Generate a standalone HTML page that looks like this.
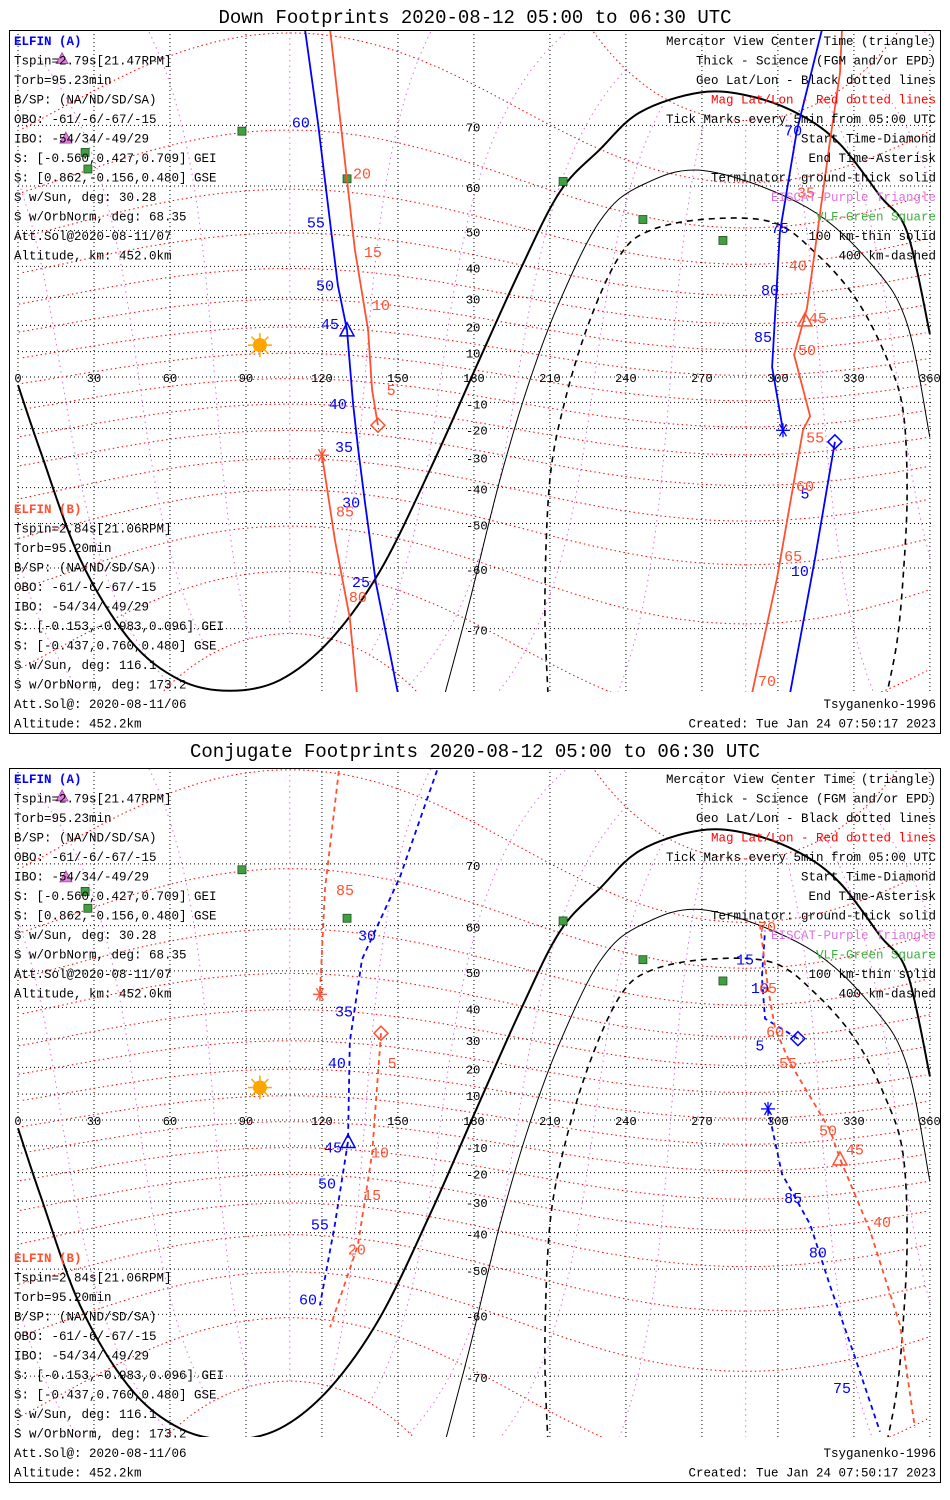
<!DOCTYPE html>
<html><head><meta charset="utf-8"><style>
html,body{margin:0;background:#fff;width:950px;height:1500px;overflow:hidden}
svg{display:block}
text{font-family:"Liberation Mono","DejaVu Sans Mono",monospace}
</style></head><body>
<svg id="chart" width="950" height="1500" viewBox="0 0 950 1500" xmlns="http://www.w3.org/2000/svg">
<defs>
<clipPath id="clip1"><rect x="17" y="31" width="914" height="661"/></clipPath>
<clipPath id="clip2"><rect x="17" y="769" width="914" height="668"/></clipPath>
</defs>
<rect x="0" y="0" width="950" height="1500" fill="#fff"/>
<text x="475" y="23" font-size="19" text-anchor="middle">Down Footprints 2020-08-12 05:00 to 06:30 UTC</text>
<text x="475" y="757" font-size="19" text-anchor="middle">Conjugate Footprints 2020-08-12 05:00 to 06:30 UTC</text>
<rect x="9.5" y="30.5" width="931" height="703" fill="none" stroke="#000"/>
<rect x="9.5" y="768.5" width="931" height="714" fill="none" stroke="#000"/>
<g id="p1"></g><g id="p2"></g>
</svg>
<script>
const lonTicks=[0,30,60,90,120,150,180,210,240,270,300,330,360];
const latTicks=[-70,-60,-50,-40,-30,-20,-10,10,20,30,40,50,60,70];
const magLats=[-80,-70,-60,-50,-40,-30,-20,-10,0,10,20,30,40,50,60,70,80];
const magLons=[0,30,60,90,120,150,180,210,240,270,300,330];
const sunPos=[95.5,12.5];
const termGround=[[0,-3.2],[8.7,-27.7],[24.5,-58.2],[44.2,-71.5],[64,-75.9],[83.7,-76.9],[103.4,-75.9],[123.2,-71.5],[142.9,-60.6],[162.7,-34.3],[180,2],[198.2,38.8],[214,58.9],[229.8,66.5],[245.6,71.7],[269.3,74],[289,73.6],[308.7,71.4],[324.5,67.3],[340.3,58],[351,49.6],[360,16.8]];
const term100=[[168.6,-77.1],[178.4,-65.8],[190.3,-37.5],[202.1,-1.2],[214,29],[229.8,52.4],[245.6,60],[271.2,62.9],[311.5,55.5],[337.5,40.1],[351,20.6],[360,-23.2]];
const term400=[[209.2,-77.1],[208,-65.8],[210,-37.5],[216,-9.1],[225.8,22],[237.7,43.3],[249.5,50],[272,52.8],[298,52],[315.4,43.6],[331.2,29],[343.1,7.1],[349.4,-13],[351,-41.8],[349.4,-62.1],[347,-71.7],[343.1,-77.1]];
const vlfSquares=[[88.4,69.2],[26.5,66],[27.6,63.2],[129.9,61.4],[215.2,60.9],[246.7,52.7],[278.3,47.4]];
const emicTriangles=[[17.4,77.3],[18.9,68.2]];
// Panel 1 tracks
const p1A1=[[113.3,79.6],[118.4,70.4],[123.2,52],[126.3,34],[129.9,18.3],[132.3,-10.6],[134.2,-26.6],[137,-44.4],[141.3,-62.8],[150,-77.1]];
const p1A2=[[317.4,79.6],[307.5,69.3],[300.8,49.6],[297.7,3.9],[302,-20.6]];
const p1A3=[[322.5,-24.8],[314.6,-58.2],[304.8,-77.1]];
const p1B1=[[123.2,79.6],[129.9,61.2],[133,44.8],[138.2,18.3],[139.8,-5.1],[142.1,-18.7]];
const p1B2=[[120,-29.5],[125.1,-54],[131,-68.5],[133.8,-77.1]];
const p1B3=[[325.3,79.6],[324.5,76],[320.6,67.9],[311.5,26.3],[306.4,8.7],[312.7,-15.3],[309.9,-20.5],[299.6,-62.1],[289.8,-77.1]];
const p1ALabels=[[111.7,70.4,'60'],[117.6,52,'55'],[121.2,34,'50'],[123.2,20.5,'45'],[126.3,-10.6,'40'],[128.7,-26.6,'35'],[131.5,-44.4,'30'],[135.4,-62.7,'25'],[306,69.3,'70'],[300.8,50.6,'75'],[296.9,32.5,'80'],[294.1,15.6,'85'],[310.7,-41.8,'5'],[308.7,-60.6,'10']];
const p1BLabels=[[135.8,62.4,'20'],[140.1,44.2,'15'],[143.3,27.3,'10'],[147.3,-5.1,'5'],[129.1,-46.8,'85'],[134.2,-65.3,'80'],[311.1,58.7,'35'],[307.9,40.3,'40'],[315.8,22.7,'45'],[311.5,10.6,'50'],[314.7,-23.2,'55'],[310.7,-39.5,'60'],[306,-57.6,'65'],[295.7,-76,'70']];
const p1Markers=[['tri','A',129.9,18.3],['dia','B',142.1,-18.7],['ast','B',120,-29.5],['ast','A',302,-20.6],['dia','A',322.5,-24.8],['tri','B',310.7,22]];
// Panel 2 tracks
const p2A1=[[166.6,79.9],[150.8,68.2],[135.8,52.8],[131,29],[130.3,-8.3],[125.1,-37.5],[119.2,-58.2]];
const p2A2=[[307.9,30.1],[294.9,36.6],[293.7,48.4],[294.9,59]];
const p2A3=[[296.1,4.3],[301.6,-20.5],[312.7,-37.5],[320.6,-54],[330.4,-67.3],[340.3,-76.2]];
const p2B1=[[127.1,79.9],[121.2,66.4],[119.2,43.8]];
const p2B2=[[143.3,31.9],[139.8,-13],[134.2,-43.6],[123.2,-62.4]];
const p2B3=[[292.9,60.2],[296.1,45.5],[298.9,33.4],[304.8,21.6],[320.6,-4],[324.5,-14.9],[336.4,-39.5],[348.2,-62],[354.1,-75.8]];
const p2ALabels=[[137.8,58,'30'],[128.7,38.8,'35'],[125.9,21.6,'40'],[124.4,-10.6,'45'],[122,-23.9,'50'],[119.2,-37.5,'55'],[114.5,-57,'60'],[287,52.7,'15'],[292.9,45.5,'10'],[292.9,27.7,'5'],[306,-29,'85'],[315.8,-45.7,'80'],[325.3,-71.5,'75']];
const p2BLabels=[[129.1,66.2,'85'],[147.7,21.6,'5'],[142.9,-12.6,'10'],[139.8,-27.9,'15'],[133.8,-44.9,'20'],[295.7,59.7,'70'],[296.1,45.5,'65'],[298.9,32.5,'60'],[304,21.6,'55'],[319.8,-4,'50'],[330.4,-11.4,'45'],[341.1,-36.8,'40']];
const p2Markers=[['ast','B',119.2,43.8],['dia','B',143.3,31.9],['tri','A',130.3,-8.3],['ast','A',296.1,4.3],['dia','A',307.9,30.1],['tri','B',324.5,-14.9]];

const leftTop=[['ELFIN (A)','#0000ff'],['Tspin=2.79s[21.47RPM]','#000'],['Torb=95.23min','#000'],['B/SP: (NA/ND/SD/SA)','#000'],['OBO: -61/-6/-67/-15','#000'],['IBO: -54/34/-49/29','#000'],['S: [-0.560,0.427,0.709] GEI','#000'],['S: [0.862,-0.156,0.480] GSE','#000'],['S w/Sun, deg: 30.28','#000'],['S w/OrbNorm, deg: 68.35','#000'],['Att.Sol@2020-08-11/07','#000'],['Altitude, km: 452.0km','#000']];
const leftBot=[['ELFIN (B)','#ff5030'],['Tspin=2.84s[21.06RPM]','#000'],['Torb=95.20min','#000'],['B/SP: (NA/ND/SD/SA)','#000'],['OBO: -61/-6/-67/-15','#000'],['IBO: -54/34/-49/29','#000'],['S: [-0.153,-0.983,0.096] GEI','#000'],['S: [-0.437,0.760,0.480] GSE','#000'],['S w/Sun, deg: 116.1','#000'],['S w/OrbNorm, deg: 173.2','#000'],['Att.Sol@: 2020-08-11/06','#000'],['Altitude: 452.2km','#000']];
const rightTop=[['Mercator View Center Time (triangle)','#000'],['Thick - Science (FGM and/or EPD)','#000'],['Geo Lat/Lon - Black dotted lines','#000'],['Mag Lat/Lon - Red dotted lines','#ff0000'],['Tick Marks every 5min from 05:00 UTC','#000'],['Start Time-Diamond','#000'],['End Time-Asterisk','#000'],['Terminator: ground-thick solid','#000'],['EISCAT-Purple Triangle','#e070e0'],['VLF-Green Square','#40b040'],['100 km-thin solid','#000'],['400 km-dashed','#000']];
const rightBot=[['Tsyganenko-1996','#000'],['Created: Tue Jan 24 07:50:17 2023','#000']];

const NS='http://www.w3.org/2000/svg';
const D=Math.PI/180;
function mk(tag,attrs,parent){const e=document.createElementNS(NS,tag);for(const k in attrs)e.setAttribute(k,attrs[k]);parent.appendChild(e);return e;}
function pathFrom(pts,sx,sy){let d='',prev=null;for(const p of pts){if(p===null){prev=null;continue;}const x=sx(p[0]),y=sy(p[1]);if(!isFinite(y)){prev=null;continue;}d+=(prev?'L':'M')+x.toFixed(1)+' '+y.toFixed(1);prev=p;}return d;}
function smoothFrom(pts,sx,sy){const P=pts.map(p=>[sx(p[0]),sy(p[1])]);let d='M'+P[0][0].toFixed(1)+' '+P[0][1].toFixed(1);
 for(let i=0;i<P.length-1;i++){const p0=P[Math.max(0,i-1)],p1=P[i],p2=P[i+1],p3=P[Math.min(P.length-1,i+2)];
  const c1=[p1[0]+(p2[0]-p0[0])/6,p1[1]+(p2[1]-p0[1])/6],c2=[p2[0]-(p3[0]-p1[0])/6,p2[1]-(p3[1]-p1[1])/6];
  d+='C'+c1[0].toFixed(1)+' '+c1[1].toFixed(1)+' '+c2[0].toFixed(1)+' '+c2[1].toFixed(1)+' '+p2[0].toFixed(1)+' '+p2[1].toFixed(1);}return d;}
function splitWrap(pts){const out=[];let prev=null;for(const p of pts){if(prev&&Math.abs(p[0]-prev[0])>180)out.push(null);out.push(p);prev=p;}return out;}
function magToGeo(ml,mo){const th=(90-80.65)*D,ps=287.3*D;const x=Math.cos(ml*D)*Math.cos(mo*D),y=Math.cos(ml*D)*Math.sin(mo*D),z=Math.sin(ml*D);
 const x1=x*Math.cos(th)+z*Math.sin(th),z1=-x*Math.sin(th)+z*Math.cos(th);const x2=x1*Math.cos(ps)-y*Math.sin(ps),y2=x1*Math.sin(ps)+y*Math.cos(ps);
 let lon=Math.atan2(y2,x2)/D;if(lon<0)lon+=360;return [lon,Math.asin(Math.max(-1,Math.min(1,z1)))/D];}

function drawPanel(id,cfg,tracks,markers,aLabels,bLabels){
 const g=document.getElementById(id);
 const sx=lon=>18+lon*2.533;
 const sy=lat=>cfg.y0-cfg.R*Math.log(Math.tan(Math.PI/4+lat*Math.PI/360));
 const m=mk('g',{'clip-path':'url(#'+cfg.clip+')'},g);
 
 
 for(const lon of lonTicks){const l=mk('line',{x1:sx(lon),x2:sx(lon),y1:cfg.top,y2:cfg.bot,stroke:'#000','stroke-width':1,'stroke-dasharray':'1 3'},m);
  }
 for(const lat of latTicks.concat([0])){const l=mk('line',{x1:10,x2:940,y1:sy(lat),y2:sy(lat),stroke:'#000','stroke-width':1,'stroke-dasharray':'1 3'},m);
  }
 for(const ml of magLats){const pts=[];for(let mo=0;mo<=360;mo+=2)pts.push(magToGeo(ml,mo));
  const p=mk('path',{d:pathFrom(splitWrap(pts),sx,sy),fill:'none',stroke:'#ff0000','stroke-width':1,'stroke-dasharray':'1.5 3'},m);
  }
 for(const mo of magLons){const pts=[];for(let ml=-80;ml<=80;ml+=2)pts.push(magToGeo(ml,mo));
  const p=mk('path',{d:pathFrom(splitWrap(pts),sx,sy),fill:'none',stroke:'#e070e0','stroke-width':1,'stroke-dasharray':'1.5 4'},m);
  }
 [[termGround,2,'none','terminator-ground'],[term100,1,'none','terminator-100km'],[term400,1.6,'6 5','terminator-400km']].forEach(t=>{
  const p=mk('path',{d:smoothFrom(t[0],sx,sy),fill:'none',stroke:'#000','stroke-width':t[1],'stroke-dasharray':t[2]},m);
  });
 for(const lon of lonTicks){const t=mk('text',{x:sx(lon),y:cfg.y0+5,'font-size':12,'text-anchor':'middle'},g);t.textContent=String(lon);
  }
 for(const lat of latTicks){const t=mk('text',{x:sx(180)-8,y:sy(lat)+6,'font-size':12},g);t.textContent=String(lat);
  }
 for(const s of vlfSquares){const r=mk('rect',{x:sx(s[0])-4,y:sy(s[1])-4,width:8,height:8,fill:'#40a040',stroke:'#205020','stroke-width':0.8},m);
  }
 for(const s of emicTriangles){const x=sx(s[0]),y=sy(s[1]);const p=mk('polygon',{points:`${x-6},${y+5} ${x+6},${y+5} ${x},${y-6}`,fill:'#e080e0',stroke:'#a040a0','stroke-width':0.8},m);
  }
 const sg=mk('g',{},m);
 const cx=sx(sunPos[0]),cy=sy(sunPos[1]);
 for(let a=0;a<360;a+=45){mk('line',{x1:cx,y1:cy,x2:cx+12*Math.cos(a*D),y2:cy+12*Math.sin(a*D),stroke:'#ffa500','stroke-width':1.5},sg);}
 mk('circle',{cx:cx,cy:cy,r:7,fill:'#ffa500'},sg);
 for(const tr of tracks){const p=mk('path',{d:pathFrom(tr.pts,sx,sy),fill:'none',stroke:tr.sc==='A'?'#0000ff':'#ff5030','stroke-width':1.8,'stroke-dasharray':cfg.dash},m);
  }
 for(const [lab,col,nm] of [[aLabels,'#0000ff','elfin-a-tick-label'],[bLabels,'#ff5030','elfin-b-tick-label']]){
  for(const l of lab){const t=mk('text',{x:sx(l[0]),y:sy(l[1])+5,'font-size':15,'text-anchor':'middle',fill:col,'font-family':'Liberation Sans, sans-serif'},g);t.textContent=l[2];
   }}
 for(const mm of markers){const x=sx(mm[2]),y=sy(mm[3]);const col=mm[1]==='A'?'#0000ff':'#ff5030';let e;
  if(mm[0]==='tri'){e=mk('polygon',{points:`${x-7},${y+6} ${x+7},${y+6} ${x},${y-7}`,fill:'none',stroke:col,'stroke-width':1.5},g);}
  else if(mm[0]==='dia'){e=mk('polygon',{points:`${x},${y-7} ${x+7},${y} ${x},${y+7} ${x-7},${y}`,fill:'none',stroke:col,'stroke-width':1.5},g);}
  else{e=mk('g',{},g);for(let a=0;a<180;a+=60){mk('line',{x1:x-7*Math.cos(a*D),y1:y-7*Math.sin(a*D),x2:x+7*Math.cos(a*D),y2:y+7*Math.sin(a*D),stroke:col,'stroke-width':1.3},e);}
   mk('line',{x1:x,y1:y-7,x2:x,y2:y+7,stroke:col,'stroke-width':1.3},e);}
  }
 const blk=(lines,x,y,anchor,nm)=>{lines.forEach((ln,i)=>{const t=mk('text',{x:x,y:y+i*19.5,'font-size':12.5,fill:ln[1],'text-anchor':anchor,'font-weight':i===0&&anchor==='start'?'bold':'normal'},g);t.textContent=ln[0];
  });};
 blk(leftTop,14,cfg.tt,'start','elfin-a-info');
 blk(leftBot,14,cfg.bt,'start','elfin-b-info');
 blk(rightTop,936,cfg.tt,'end','legend-entry');
 blk(rightBot,936,cfg.bt+195,'end','model-info');
}
drawPanel('p1',{y0:377,R:145,top:30,bot:692,clip:'clip1',dash:'none',tt:45,bt:513},
 [{sc:'A',pts:p1A1},{sc:'A',pts:p1A2},{sc:'A',pts:p1A3},{sc:'B',pts:p1B1},{sc:'B',pts:p1B2},{sc:'B',pts:p1B3}],p1Markers,p1ALabels,p1BLabels);
drawPanel('p2',{y0:1120,R:147.6,top:768,bot:1437,clip:'clip2',dash:'5 4',tt:783,bt:1262},
 [{sc:'A',pts:p2A1},{sc:'A',pts:p2A2},{sc:'A',pts:p2A3},{sc:'B',pts:p2B1},{sc:'B',pts:p2B2},{sc:'B',pts:p2B3}],p2Markers,p2ALabels,p2BLabels);
</script>
</body></html>
